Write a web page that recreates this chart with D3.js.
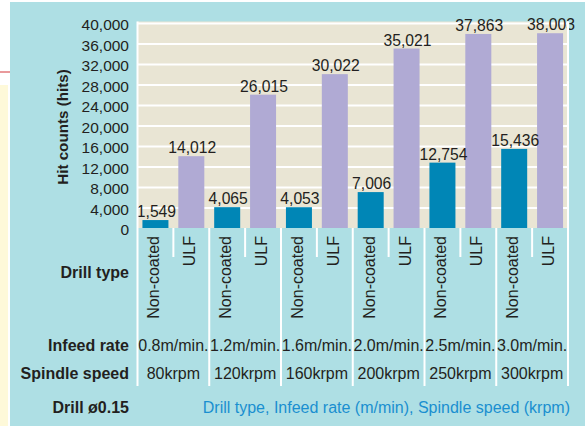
<!DOCTYPE html>
<html><head><meta charset="utf-8">
<script src="https://cdn.jsdelivr.net/npm/d3@7"></script>
<style>
html,body{margin:0;padding:0;background:#fff;}
svg{display:block;}
text{font-family:"Liberation Sans",Arial,Helvetica,sans-serif;}
</style></head>
<body>
<script>
const drillTypes = ["Non-coated", "ULF"];
const infeedRates = ["0.8m/min.", "1.2m/min.", "1.6m/min.", "2.0m/min.", "2.5m/min.", "3.0m/min."];
const spindleSpeeds = ["80krpm", "120krpm", "160krpm", "200krpm", "250krpm", "300krpm"];
const nonCoated = [1549, 4065, 4053, 7006, 12754, 15436];
const ulf = [14012, 26015, 30022, 35021, 37863, 38003];
const yTicks = [0, 4000, 8000, 12000, 16000, 20000, 24000, 28000, 32000, 36000, 40000];
const yTitle = "Hit counts (hits)";
const rowLabels = ["Drill type", "Infeed rate", "Spindle speed"];
const footLabel = "Drill ø0.15";
const footNote = "Drill type, Infeed rate (m/min), Spindle speed (krpm)";

const W = 585, H = 426;
const C = {teal:"#aedfe4", beige:"#e9e5d4", nc:"#0086b6", ulf:"#b0aad4", text:"#231f20", blue:"#1a8fd0"};
const svg = d3.select("body").append("svg").attr("width", W).attr("height", H);

// page decoration
svg.append("rect").attr("x",0).attr("y",85).attr("width",8).attr("height",H-85).attr("fill","#fef9d9");
svg.append("rect").attr("x",0).attr("y",71).attr("width",10).attr("height",2).attr("fill","#e99a9c");
svg.append("rect").attr("x",10).attr("y",2).attr("width",W-10).attr("height",H-2).attr("fill",C.teal);

// columns
const cols = [];
infeedRates.forEach((r,g)=>{ drillTypes.forEach((t,k)=>{ cols.push({g, t, key:g+"-"+t, v: k===0?nonCoated[g]:ulf[g]}); }); });

const x0 = 137.5, x1 = 568, yTop = 23, yBot = 228;
const x = d3.scaleBand().domain(cols.map(d=>d.key)).range([x0, x1]).padding(0);
const xg = d3.scaleBand().domain(infeedRates.map((d,i)=>i)).range([x0, x1]).padding(0);
const y = d3.scaleLinear().domain([0, 40000]).range([yBot, yTop]);
const barW = 26;

// plot background
svg.append("rect").attr("x",x0).attr("y",yTop-1.5).attr("width",x1-x0).attr("height",yBot-yTop+1.5).attr("fill",C.beige);

// gridlines
const grid = svg.append("g").attr("transform",`translate(${x0},0)`)
  .call(d3.axisLeft(y).tickValues(yTicks.filter(d=>d>0)).tickSize(-(x1-x0)).tickFormat(""));
grid.select(".domain").remove();
grid.selectAll("line").attr("stroke","#fff").attr("stroke-width",2);

// y tick labels
const ya = svg.append("g").attr("transform",`translate(129,0)`)
  .call(d3.axisLeft(y).tickValues(yTicks).tickSize(0).tickPadding(0).tickFormat(d3.format(",")));
ya.select(".domain").remove();
ya.selectAll("text").attr("font-size","15.5px").attr("fill",C.text).attr("font-family","'Liberation Sans',Arial,sans-serif").attr("dy","0.45em");

// y title
svg.append("text").attr("transform","translate(67.5,127) rotate(-90)").attr("text-anchor","middle")
  .attr("font-size","15.2px").attr("font-weight","bold").attr("fill",C.text).text(yTitle);

// bars
svg.selectAll("rect.bar").data(cols).join("rect").attr("class","bar")
  .attr("x",d=>x(d.key)+(x.bandwidth()-barW)/2).attr("width",barW)
  .attr("y",d=>y(d.v)).attr("height",d=>yBot-y(d.v))
  .attr("fill",d=>d.t==="ULF"?C.ulf:C.nc);

// value labels
svg.selectAll("text.val").data(cols).join("text").attr("class","val")
  .attr("x",d=>x(d.key)+x.bandwidth()/2+1).attr("y",d=>y(d.v)-3)
  .attr("text-anchor","middle").attr("font-size","15.7px").attr("fill",C.text)
  .text(d=>d3.format(",")(d.v));

// plot borders (left/right)
svg.append("line").attr("x1",x0).attr("x2",x0).attr("y1",yTop-1.5).attr("y2",386).attr("stroke","#fff").attr("stroke-width",2);
svg.append("line").attr("x1",x1).attr("x2",x1).attr("y1",yTop-1.5).attr("y2",386).attr("stroke","#fff").attr("stroke-width",2);

// separators below plot
svg.selectAll("line.gsep").data(infeedRates.slice(1)).join("line").attr("class","gsep")
  .attr("x1",(d,i)=>xg(i+1)).attr("x2",(d,i)=>xg(i+1)).attr("y1",yBot).attr("y2",386)
  .attr("stroke","#fff").attr("stroke-width",2);
svg.selectAll("line.ssep").data(infeedRates).join("line").attr("class","ssep")
  .attr("x1",(d,i)=>xg(i)+xg.bandwidth()/2).attr("x2",(d,i)=>xg(i)+xg.bandwidth()/2).attr("y1",yBot).attr("y2",257)
  .attr("stroke","#fff").attr("stroke-width",2);

// drill type labels (rotated)
svg.selectAll("text.dt").data(cols).join("text").attr("class","dt")
  .attr("transform",d=>`translate(${x(d.key)+x.bandwidth()/2+4},236) rotate(-90)`)
  .attr("text-anchor","end").attr("font-size","16px").attr("fill",C.text).text(d=>d.t);

// row labels
const rowY = [277.5, 350.5, 378.5];
svg.selectAll("text.row").data(rowLabels).join("text").attr("class","row")
  .attr("x",129).attr("y",(d,i)=>rowY[i]).attr("text-anchor","end")
  .attr("font-size","16px").attr("font-weight","bold").attr("fill",C.text).text(d=>d);

svg.selectAll("text.inf").data(infeedRates).join("text").attr("class","inf")
  .attr("x",(d,i)=>xg(i)+xg.bandwidth()/2).attr("y",350.5).attr("text-anchor","middle")
  .attr("font-size","16px").attr("fill",C.text).text(d=>d);
svg.selectAll("text.spd").data(spindleSpeeds).join("text").attr("class","spd")
  .attr("x",(d,i)=>xg(i)+xg.bandwidth()/2).attr("y",378.5).attr("text-anchor","middle")
  .attr("font-size","16px").attr("fill",C.text).text(d=>d);

// footer
svg.append("text").attr("x",129).attr("y",412.5).attr("text-anchor","end")
  .attr("font-size","16px").attr("font-weight","bold").attr("fill",C.text).text(footLabel);
svg.append("text").attr("x",570).attr("y",412.5).attr("text-anchor","end")
  .attr("font-size","16px").attr("fill",C.blue).text(footNote);
</script>
</body></html>
